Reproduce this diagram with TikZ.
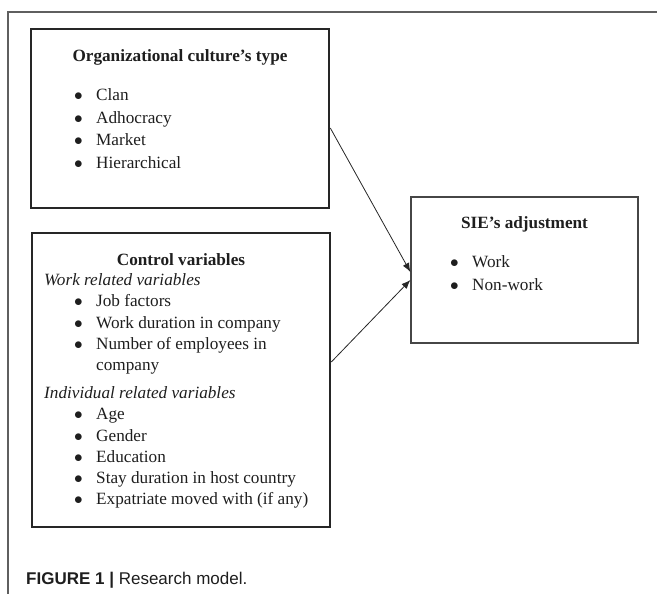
\documentclass[tikz,border=0pt]{standalone}
\usepackage{fontspec}
\setmainfont{Liberation Serif}
\newfontfamily\capfont{Liberation Sans}
\usetikzlibrary{arrows.meta,positioning,calc}
\definecolor{framegray}{RGB}{95,95,95}
\definecolor{boxgray}{RGB}{70,70,70}
\definecolor{textdark}{RGB}{30,30,30}
\newcommand{\bul}{\makebox[22pt][l]{$\bullet$}}

\begin{document}
\begin{tikzpicture}[
    x=1pt, y=-1pt,
    thickbox/.style={rectangle, draw=black!85, line width=2.6pt, inner sep=0pt},
    thinbox/.style={rectangle, draw=boxgray, line width=1.2pt, inner sep=0pt},
    title/.style={anchor=base, inner sep=0pt, text=textdark, font=\fontsize{17.2}{22.7}\selectfont\bfseries},
    list/.style={anchor=north west, inner sep=0pt, align=left, text=textdark, font=\fontsize{17.2}{22.7}\selectfont},
    arrow/.style={-{Latex[length=9pt,width=7pt]}, line width=0.8pt, black!85}
]
    \useasboundingbox (0,0) rectangle (657,594);

    % Frame
    \draw[framegray, line width=1.2pt] (657,12) -- (8,12) -- (8,594);

    % Culture type
    \node[thickbox, minimum width=298pt, minimum height=179pt] (org) at (180,118.5) {};
    \node[title] (orgtitle) at (180,62) {Organizational culture’s type};
    \node[list] (orglist) at (74,88.3) {\bul Clan\\ \bul Adhocracy\\ \bul Market\\ \bul Hierarchical};

    % Control variables
    \node[thickbox, minimum width=298pt, minimum height=294pt] (ctrl) at (181,380) {};
    \node[title] (ctrltitle) at (181,265) {Control variables};
    \node[list, font=\fontsize{17.2}{21.3}\selectfont] (ctrllist) at (44,273.3) {%
        \textit{Work related variables}\\
        \hspace*{30pt}\bul Job factors\\
        \hspace*{30pt}\bul Work duration in company\\
        \hspace*{30pt}\bul Number of employees in\\
        \hspace*{52pt}company\\[6.5pt]
        \textit{Individual related variables}\\
        \hspace*{30pt}\bul Age\\
        \hspace*{30pt}\bul Gender\\
        \hspace*{30pt}\bul Education\\
        \hspace*{30pt}\bul Stay duration in host country\\
        \hspace*{30pt}\bul Expatriate moved with (if any)};

    % Adjustment
    \node[thinbox, minimum width=227pt, minimum height=146pt] (sie) at (524.5,270) {};
    \node[title] (sietitle) at (524.5,228) {SIE’s adjustment};
    \node[list] (sielist) at (450,255.3) {\bul Work\\ \bul Non-work};

    % Arrows
    \draw[arrow] ([yshift=-9.5pt]org.east) -- ([yshift=-2pt]sie.west);
    \draw[arrow] ([yshift=18pt]ctrl.east) -- ([yshift=-10pt]sie.west);

    % Caption
    \node[anchor=base west, inner sep=0pt, text=textdark, font=\capfont\fontsize{17}{20}\selectfont] (caption) at (26,584) {\textbf{FIGURE 1 |} Research model.};
\end{tikzpicture}
\end{document}
